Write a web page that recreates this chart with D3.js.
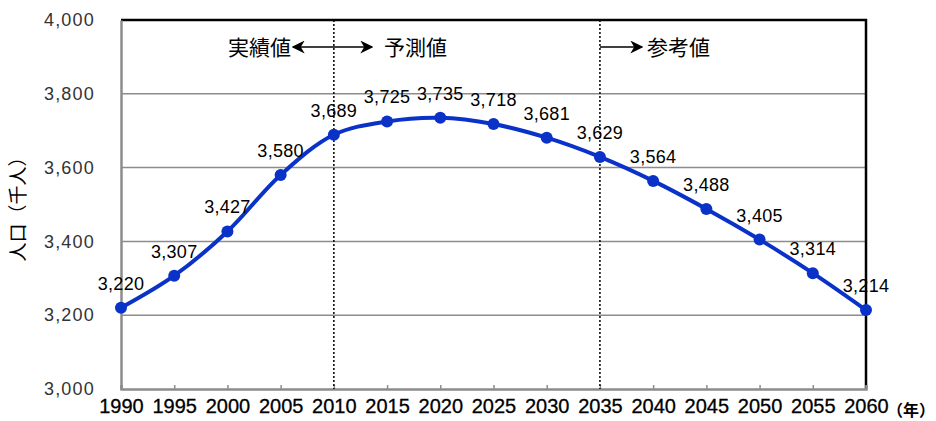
<!DOCTYPE html>
<html>
<head>
<meta charset="utf-8">
<script src="https://cdn.jsdelivr.net/npm/d3@7"></script>
<style>
  body { margin: 0; background: #fff; }
  svg { display: block; }
</style>
</head>
<body>
<div id="chart"></div>
<script>
const years = [1990, 1995, 2000, 2005, 2010, 2015, 2020, 2025, 2030, 2035, 2040, 2045, 2050, 2055, 2060];
const population = [3220, 3307, 3427, 3580, 3689, 3725, 3735, 3718, 3681, 3629, 3564, 3488, 3405, 3314, 3214];
const yTicks = [3000, 3200, 3400, 3600, 3800, 4000];
const dividerYears = [2010, 2035];

const width = 936;
const height = 421;
const margin = {top: 20, right: 70, bottom: 32, left: 121};

const svg = d3.select("#chart").append("svg")
  .attr("width", width)
  .attr("height", height);

const x = d3.scaleLinear()
  .domain([1990, 2060])
  .range([margin.left, width - margin.right]);

const y = d3.scaleLinear()
  .domain([3000, 4000])
  .range([height - margin.bottom, margin.top]);

// gridlines
svg.append("g")
  .selectAll("line")
  .data(yTicks.filter((d) => d > 3000 && d < 4000))
  .join("line")
  .attr("x1", x(1990))
  .attr("x2", x(2060))
  .attr("y1", (d) => y(d))
  .attr("y2", (d) => y(d))
  .attr("stroke", "#8c8c8c")
  .attr("stroke-width", 1.5);

// top and right frame
svg.append("path")
  .attr("d", `M${x(1990)},${y(4000)}H${x(2060)}V${y(3000)}`)
  .attr("fill", "none")
  .attr("stroke", "#000")
  .attr("stroke-width", 2.5);

// y axis
const yAxis = svg.append("g")
  .attr("transform", `translate(${x(1990)},0)`)
  .call(d3.axisLeft(y).tickValues(yTicks).tickSize(0).tickPadding(26).tickFormat(d3.format(",")));
yAxis.select(".domain").attr("stroke", "#8c8c8c").attr("stroke-width", 2.5);
yAxis.selectAll("text")
  .attr("font-family", "'Liberation Sans', Arial, sans-serif")
  .attr("font-size", 18)
  .attr("letter-spacing", 1.2)
  .attr("fill", "#333");

// x axis
const xAxis = svg.append("g")
  .attr("transform", `translate(0,${y(3000)})`)
  .call(d3.axisBottom(x).tickValues(years).tickSize(-4).tickPadding(10).tickFormat(d3.format("d")));
xAxis.select(".domain").attr("stroke", "#8c8c8c").attr("stroke-width", 2.5);
xAxis.selectAll(".tick line").attr("stroke", "#8c8c8c").attr("stroke-width", 1.5);
xAxis.selectAll("text")
  .attr("font-family", "'Liberation Sans Narrow', 'Liberation Sans', sans-serif")
  .attr("font-size", 20)
  .attr("stroke", "#000")
  .attr("stroke-width", 0.3)
  .attr("fill", "#000");

svg.append("text")
  .attr("x", 935)
  .attr("y", 416)
  .attr("text-anchor", "end")
  .attr("font-family", "'Noto Sans CJK JP', sans-serif")
  .attr("font-size", 16)
  .attr("font-weight", "bold")
  .text("（年）");

// y axis title
svg.append("text")
  .attr("transform", `translate(25,${(y(3000) + y(4000)) / 2}) rotate(-90)`)
  .attr("text-anchor", "middle")
  .attr("font-family", "'Noto Sans CJK JP', sans-serif")
  .attr("font-size", 19)
  .text("人口（千人）");

// dotted dividers
svg.append("g")
  .selectAll("line")
  .data(dividerYears)
  .join("line")
  .attr("x1", (d) => x(d))
  .attr("x2", (d) => x(d))
  .attr("y1", y(4000))
  .attr("y2", y(3000))
  .attr("stroke", "#000")
  .attr("stroke-width", 1.5)
  .attr("stroke-dasharray", "2,2");

// arrows
const defs = svg.append("defs");
defs.append("marker")
  .attr("id", "arrow")
  .attr("viewBox", "0 0 10 10")
  .attr("refX", 9)
  .attr("refY", 5)
  .attr("markerWidth", 13)
  .attr("markerHeight", 13)
  .attr("markerUnits", "userSpaceOnUse")
  .attr("orient", "auto-start-reverse")
  .append("path")
  .attr("d", "M0,0L10,5L0,10L3,5Z")
  .attr("fill", "#000");

const annY = 47;
svg.append("line")
  .attr("x1", 293).attr("x2", 372)
  .attr("y1", annY).attr("y2", annY)
  .attr("stroke", "#000").attr("stroke-width", 1.3)
  .attr("marker-start", "url(#arrow)")
  .attr("marker-end", "url(#arrow)");
svg.append("line")
  .attr("x1", x(2035)).attr("x2", 642)
  .attr("y1", annY).attr("y2", annY)
  .attr("stroke", "#000").attr("stroke-width", 1.3)
  .attr("marker-end", "url(#arrow)");

const annFont = "'Noto Sans CJK JP', sans-serif";
const annSize = 21;
svg.append("text").attr("x", 291).attr("y", annY + 8).attr("text-anchor", "end")
  .attr("font-family", annFont).attr("font-size", annSize).text("実績値");
svg.append("text").attr("x", 384).attr("y", annY + 8)
  .attr("font-family", annFont).attr("font-size", annSize).text("予測値");
svg.append("text").attr("x", 647).attr("y", annY + 8)
  .attr("font-family", annFont).attr("font-size", annSize).text("参考値");

// line
const data = years.map((yr, i) => ({year: yr, value: population[i]}));
const line = d3.line()
  .x((d) => x(d.year))
  .y((d) => y(d.value))
  .curve(d3.curveCatmullRom.alpha(0.5));

svg.append("path")
  .datum(data)
  .attr("d", line)
  .attr("fill", "none")
  .attr("stroke", "#0a32c8")
  .attr("stroke-width", 4);

svg.append("g")
  .selectAll("circle")
  .data(data)
  .join("circle")
  .attr("cx", (d) => x(d.year))
  .attr("cy", (d) => y(d.value))
  .attr("r", 6)
  .attr("fill", "#0a32c8");

svg.append("g")
  .selectAll("text")
  .data(data)
  .join("text")
  .attr("x", (d) => x(d.year))
  .attr("y", (d) => y(d.value) - 18)
  .attr("text-anchor", "middle")
  .attr("font-family", "'Liberation Sans', Arial, sans-serif")
  .attr("font-size", 18)
  .attr("letter-spacing", 0.3)
  .attr("fill", "#000")
  .text((d) => d3.format(",")(d.value));
</script>
</body>
</html>
